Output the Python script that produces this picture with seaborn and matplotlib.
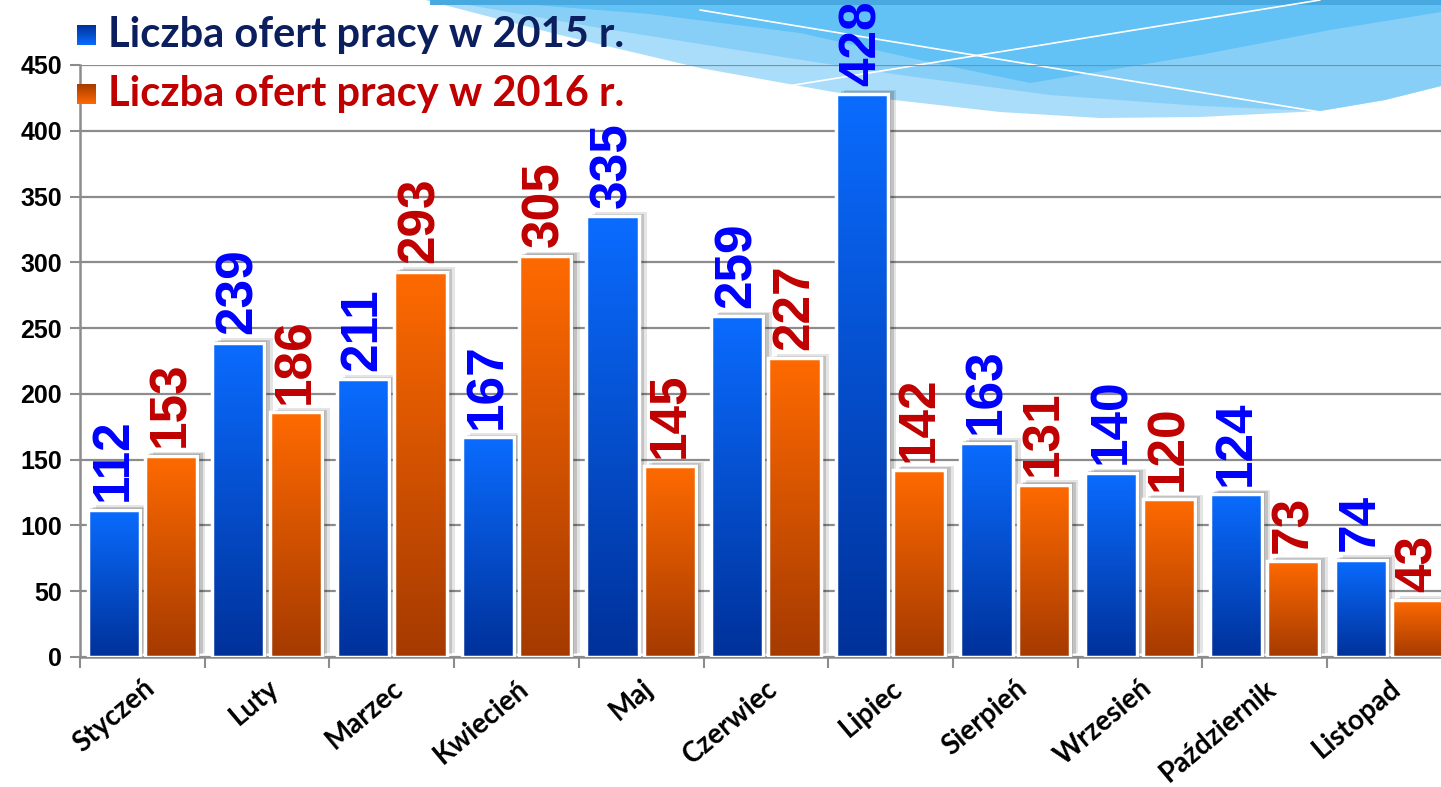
import numpy as np
import pandas as pd
import matplotlib
matplotlib.use("Agg")
import matplotlib.pyplot as plt
import seaborn as sns
from matplotlib.colors import LinearSegmentedColormap
from matplotlib.patches import Rectangle, Polygon
import matplotlib.patheffects as pe

months = ["Styczeń", "Luty", "Marzec", "Kwiecień", "Maj", "Czerwiec", "Lipiec",
          "Sierpień", "Wrzesień", "Październik", "Listopad"]
offers_2015 = [112, 239, 211, 167, 335, 259, 428, 163, 140, 124, 74]
offers_2016 = [153, 186, 293, 305, 145, 227, 142, 131, 120, 73, 43]
series_names = ["Liczba ofert pracy w 2015 r.", "Liczba ofert pracy w 2016 r."]
y_ticks = [0, 50, 100, 150, 200, 250, 300, 350, 400, 450]

df = pd.DataFrame({
    "month": months * 2,
    "value": offers_2015 + offers_2016,
    "series": [series_names[0]] * len(months) + [series_names[1]] * len(months),
})

sns.set_theme(style="white")
plt.rcParams["font.family"] = ["Liberation Sans", "DejaVu Sans"]
plt.rcParams["text.color"] = "black"
plt.rcParams["xtick.color"] = "black"
plt.rcParams["ytick.color"] = "black"

W, H = 1441, 787
fig = plt.figure(figsize=(W / 100, H / 100), dpi=100)
fig.patch.set_facecolor("white")

# ---- decorative background wave ----
bg = fig.add_axes([0, 0, 1, 1], zorder=-5)
bg.set_xlim(0, W)
bg.set_ylim(H, 0)
bg.axis("off")
bg.add_patch(Polygon([(425, 0), (560, 35), (700, 68), (850, 95), (1000, 112),
                      (1100, 118), (1200, 117), (1320, 111), (1385, 100),
                      (1441, 86), (1441, 0)], closed=True,
                     facecolor="#AADDFA", edgecolor="none"))
bg.add_patch(Polygon([(440, 0), (600, 28), (750, 52), (900, 75), (1050, 95),
                      (1200, 106), (1320, 111), (1385, 100), (1441, 86),
                      (1441, 0)], closed=True, facecolor="#88CFF8", edgecolor="none"))
bg.add_patch(Polygon([(470, 0), (650, 14), (800, 33), (920, 60), (1030, 83),
                      (1200, 55), (1330, 30), (1441, 12), (1441, 0)], closed=True,
                     facecolor="#62C1F5", edgecolor="none"))
bg.add_patch(Rectangle((430, 0), W - 430, 5, facecolor="#48A8E0", edgecolor="none"))
bg.plot([700, 1320], [10, 112], color="white", lw=1.2)
bg.plot([745, 1320], [93, 0], color="white", lw=1.2)

# ---- main chart ----
cat_px = 124.7
ax = fig.add_axes([80 / W, 1 - 657 / H, len(months) * cat_px / W, (657 - 65) / H])
ax.set_facecolor("none")

blue_top, blue_bot = "#0A6CFF", "#00319A"
orange_top, orange_bot = "#FF6A00", "#A53A00"

sns.barplot(data=df, x="month", y="value", hue="series",
            palette=[blue_top, orange_top], width=0.92, gap=0.09,
            edgecolor="white", linewidth=0, legend=False, ax=ax, zorder=3)

ax.set_ylim(0, 450)
ax.set_xlim(-0.5, len(months) - 0.5)

grads = [(blue_bot, blue_top), (orange_bot, orange_top)]
grad_arr = np.linspace(0, 1, 256).reshape(-1, 1)
shadow = [pe.SimplePatchShadow(offset=(6, 3), shadow_rgbFace="black", alpha=0.10),
          pe.SimplePatchShadow(offset=(4, 2), shadow_rgbFace="black", alpha=0.15),
          pe.SimplePatchShadow(offset=(2, 1), shadow_rgbFace="black", alpha=0.2),
          pe.Normal()]
for ci, cont in enumerate(ax.containers):
    cmap = LinearSegmentedColormap.from_list("g%d" % ci, list(grads[ci]))
    for p in cont.patches:
        p.set_path_effects(shadow)
        x0, y0 = p.get_x(), p.get_y()
        w, h = p.get_width(), p.get_height()
        im = ax.imshow(grad_arr, extent=[x0, x0 + w, y0, y0 + h], origin="lower",
                       aspect="auto", cmap=cmap, zorder=3.5, interpolation="bilinear")
        im.set_clip_path(p)
        ax.add_patch(Rectangle((x0, y0), w, h, facecolor="none", edgecolor="white",
                               linewidth=2.5, zorder=4))

ax.set_xlim(-0.5, len(months) - 0.5)
ax.set_ylim(0, 450)
ax.set_aspect("auto")

label_colors = ["#0000FF", "#C00000"]
for ci, cont in enumerate(ax.containers):
    ax.bar_label(cont, rotation=90, padding=6, fontsize=37, fontweight="bold",
                 color=label_colors[ci], zorder=6)

# grid / axes styling
ax.set_yticks(y_ticks)
ax.yaxis.grid(True, color="#8C8C8C", linewidth=1.6, zorder=0)
ax.set_axisbelow(True)
for s in ["top", "right"]:
    ax.spines[s].set_visible(False)
for s in ["left", "bottom"]:
    ax.spines[s].set_color("#8C8C8C")
    ax.spines[s].set_linewidth(1.8)
ax.tick_params(axis="y", length=7, width=1.5, color="#8C8C8C", labelsize=18,
               pad=6, left=True, direction="out", labelcolor="black")
for t in ax.get_yticklabels():
    t.set_fontweight("bold")

ax.set_xticks(range(len(months)))
ax.set_xticklabels(months, rotation=40, ha="right", rotation_mode="anchor",
                   fontsize=20, fontweight="bold", family=["Lato", "DejaVu Sans"],
                   color="black")
ax.tick_params(axis="x", which="major", length=0, pad=13)
ax.set_xticks(np.arange(-0.5, len(months), 1.0), minor=True)
ax.tick_params(axis="x", which="minor", length=8, width=1.5, color="#8C8C8C",
               bottom=True, direction="out")
ax.set_xlabel("")
ax.set_ylabel("")

# ---- legend overlay ----
ov = fig.add_axes([0, 0, 1, 1], zorder=10)
ov.axis("off")
ov.set_facecolor("none")
leg_text_colors = ["#0B1F5E", "#C00000"]
for i, (yc, name) in enumerate(zip([35, 94], series_names)):
    cmap = LinearSegmentedColormap.from_list("lg%d" % i, list(grads[i]))
    ov.imshow(grad_arr, extent=[77, 96, yc + 10, yc - 10], origin="upper",
              aspect="auto", cmap=cmap, interpolation="bilinear")
    ov.text(108, yc, name, fontsize=30, fontweight="bold",
            family=["Lato", "DejaVu Sans"], color=leg_text_colors[i],
            va="center", ha="left")
ov.set_xlim(0, W)
ov.set_ylim(H, 0)

fig.savefig("out.png", dpi=100, facecolor="white")
